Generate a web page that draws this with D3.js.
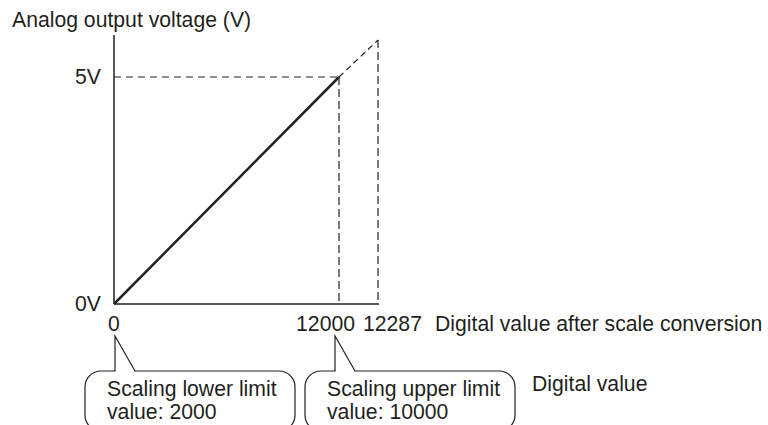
<!DOCTYPE html>
<html>
<head>
<meta charset="utf-8">
<script src="https://cdn.jsdelivr.net/npm/d3@7"></script>
<style>
  body { margin: 0; background: #fff; }
  svg { display: block; }
  text { font-family: "Liberation Sans", Arial, sans-serif; fill: #231f20; }
</style>
</head>
<body>
<div id="chart"></div>
<script>
// values
var digitalTicks = [0, 12000, 12287];
var digitalLabels = ["0", "12000", "12287"];
var voltageTicks = [0, 5];
var voltageLabels = ["0V", "5V"];

// the solid conversion line and its dashed extension
var lineDigital = [0, 12000];
var lineVoltage = [0, 5];
var extDigital = [12000, 12287];
var extVoltage = [5, 5.12];

var calloutDigital = [0, 12000];
var calloutText = [
    ["Scaling lower limit", "value: 2000"],
    ["Scaling upper limit", "value: 10000"]
];

var title = "Analog output voltage (V)";
var xTitle = "Digital value after scale conversion";
var calloutTitle = "Digital value";

var config = {
    width: 768,
    height: 425,
    fontSize: 21.2,
    ink: '#231f20'
};

// schematic axes: not to scale past the 12000 / 5V marks
var x = d3.scaleLinear().domain(digitalTicks).range([114, 339, 378]);
var y = d3.scaleLinear().domain([0, 5, 5.12]).range([304, 77, 40]);

var svg = d3.select('#chart').append('svg')
    .attr('width', config.width)
    .attr('height', config.height);

// axes
svg.append('line')
    .attr('x1', x(0)).attr('x2', x(0))
    .attr('y1', 35).attr('y2', y(0))
    .attr('stroke', config.ink).attr('stroke-width', 1.5);
svg.append('line')
    .attr('x1', x(0)).attr('x2', x(12287) + 1)
    .attr('y1', y(0)).attr('y2', y(0))
    .attr('stroke', config.ink).attr('stroke-width', 1.5);

// dashed guides
svg.append('line')
    .attr('x1', x(0)).attr('x2', x(12000))
    .attr('y1', y(5)).attr('y2', y(5))
    .attr('stroke', config.ink).attr('stroke-width', 1.2)
    .attr('stroke-dasharray', '7,5');
svg.selectAll('.vguide')
    .data([[12000, 5], [12287, 5.12]])
    .enter().append('line')
    .attr('class', 'vguide')
    .attr('x1', function (d) { return x(d[0]); })
    .attr('x2', function (d) { return x(d[0]); })
    .attr('y1', function (d) { return y(d[1]); })
    .attr('y2', y(0))
    .attr('stroke', config.ink).attr('stroke-width', 1.2)
    .attr('stroke-dasharray', '8,4');

// conversion line
var line = d3.line()
    .x(function (d) { return x(d[0]); })
    .y(function (d) { return y(d[1]); });
svg.append('path')
    .attr('d', line(d3.zip(lineDigital, lineVoltage)))
    .attr('fill', 'none')
    .attr('stroke', config.ink).attr('stroke-width', 2.5);
svg.append('path')
    .attr('d', line(d3.zip(extDigital, extVoltage)))
    .attr('fill', 'none')
    .attr('stroke', config.ink).attr('stroke-width', 1.2)
    .attr('stroke-dasharray', '6,4');

// titles and tick labels
svg.append('text')
    .attr('x', 12).attr('y', 27)
    .attr('font-size', config.fontSize)
    .text(title);

svg.selectAll('.ylab')
    .data(voltageTicks)
    .enter().append('text')
    .attr('class', 'ylab')
    .attr('x', 101)
    .attr('y', function (d) { return y(d) + 7; })
    .attr('font-size', config.fontSize)
    .style('text-anchor', 'end')
    .text(function (d, i) { return voltageLabels[i]; });

// labels sit side by side under the axis end
var xlabAnchor = ['middle', 'end', 'start'];
var xlabShift = [0, 16, -15];
svg.selectAll('.xlab')
    .data(digitalTicks)
    .enter().append('text')
    .attr('class', 'xlab')
    .attr('x', function (d, i) { return x(d) + xlabShift[i]; })
    .attr('y', 331)
    .attr('font-size', config.fontSize)
    .style('text-anchor', function (d, i) { return xlabAnchor[i]; })
    .text(function (d, i) { return digitalLabels[i]; });

svg.append('text')
    .attr('x', 435).attr('y', 331)
    .attr('font-size', config.fontSize)
    .text(xTitle);

// callouts with pointers
var calloutShift = [1, -4];
var callouts = svg.selectAll('.callout')
    .data(calloutDigital)
    .enter().append('g')
    .attr('class', 'callout')
    .attr('transform', function (d, i) {
        return 'translate(' + (x(d) + calloutShift[i]) + ',0)';
    });

callouts.append('rect')
    .attr('x', -30).attr('y', 371)
    .attr('width', 210).attr('height', 60)
    .attr('rx', 16).attr('ry', 16)
    .attr('fill', '#fff')
    .attr('stroke', config.ink).attr('stroke-width', 1.2);

// pointer: cover the box edge under it, then draw the two sides
callouts.append('line')
    .attr('x1', 0.6).attr('x2', 19.4)
    .attr('y1', 371).attr('y2', 371)
    .attr('stroke', '#fff').attr('stroke-width', 2);
callouts.append('path')
    .attr('d', 'M0,371 L0,336 L20,371')
    .attr('fill', 'none')
    .attr('stroke', config.ink).attr('stroke-width', 1.2);

callouts.selectAll('.cline')
    .data(function (d, i) { return calloutText[i]; })
    .enter().append('text')
    .attr('class', 'cline')
    .attr('x', -8)
    .attr('y', function (d, j) { return 396 + j * 23; })
    .attr('font-size', config.fontSize)
    .text(function (d) { return d; });

svg.append('text')
    .attr('x', 532).attr('y', 391)
    .attr('font-size', config.fontSize)
    .text(calloutTitle);
</script>
</body>
</html>
